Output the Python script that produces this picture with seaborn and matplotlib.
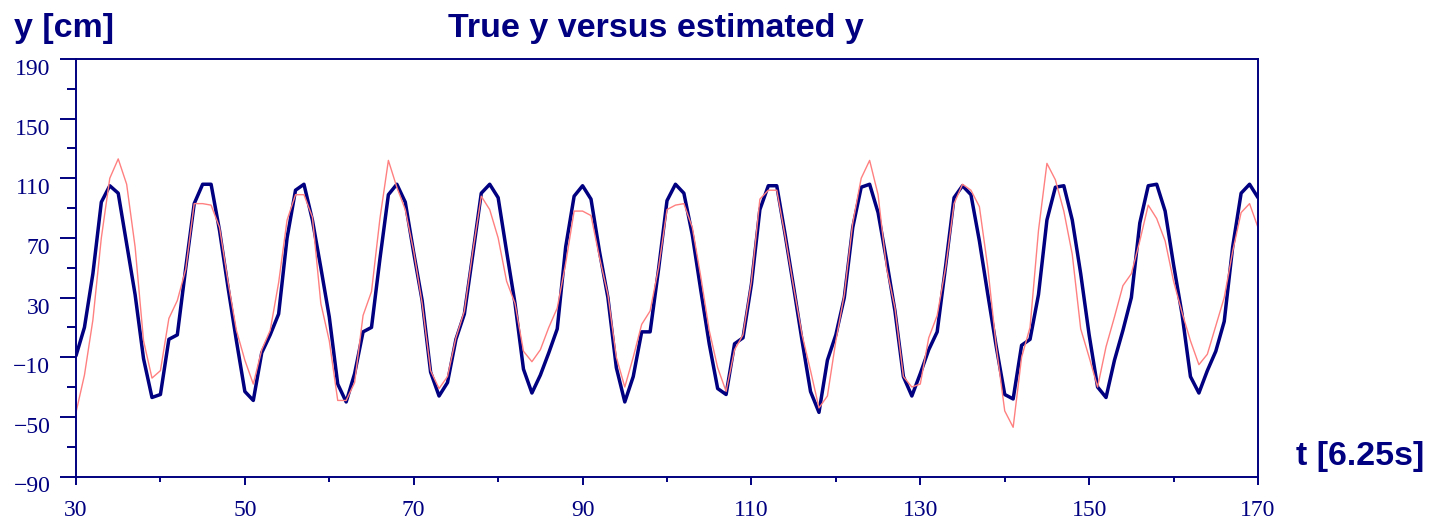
import matplotlib
matplotlib.use("Agg")
import matplotlib.pyplot as plt
import matplotlib.transforms as mtransforms
import seaborn as sns
import pandas as pd

t_values = list(range(30, 171))

true_y = [
    -9, 10, 46, 94, 105, 100, 66, 32, -11, -37,
    -35, 2, 5, 50, 93, 106, 106, 75, 37, 1,
    -33, -39, -7, 5, 19, 70, 102, 106, 82, 50,
    17, -28, -40, -21, 7, 10, 56, 99, 106, 94,
    60, 28, -20, -36, -27, 2, 19, 59, 100, 106,
    97, 61, 26, -18, -34, -22, -7, 9, 64, 98,
    105, 96, 61, 30, -17, -40, -23, 7, 7, 49,
    95, 106, 100, 72, 35, -1, -31, -35, -1, 3,
    39, 89, 105, 105, 72, 37, 1, -33, -47, -12,
    5, 30, 77, 104, 106, 87, 55, 21, -23, -36,
    -21, -5, 7, 51, 97, 105, 99, 68, 32, -3,
    -35, -38, -2, 2, 32, 82, 104, 105, 82, 46,
    5, -30, -37, -12, 8, 30, 80, 105, 106, 88,
    52, 19, -23, -34, -19, -6, 14, 64, 100, 106,
    97,
]

estimated_y = [
    -47, -22, 15, 70, 110, 123, 106, 64, 1, -24,
    -19, 16, 28, 49, 93, 93, 92, 77, 41, 8,
    -12, -28, -5, 8, 40, 82, 99, 99, 84, 26,
    1, -39, -39, -27, 18, 34, 83, 122, 104, 89,
    61, 26, -19, -31, -23, 3, 21, 61, 98, 89,
    70, 41, 26, -6, -13, -5, 10, 23, 53, 88,
    88, 85, 57, 32, -10, -30, -10, 12, 21, 50,
    89, 92, 93, 77, 44, 8, -17, -33, -5, 5,
    41, 96, 102, 102, 71, 37, 5, -19, -44, -36,
    1, 32, 80, 110, 122, 99, 50, 23, -23, -30,
    -28, 3, 18, 50, 93, 106, 102, 91, 50, -3,
    -46, -57, -10, 10, 75, 120, 109, 88, 59, 9,
    -10, -30, -3, 17, 38, 46, 68, 92, 83, 68,
    41, 20, 1, -15, -8, 11, 30, 61, 87, 93,
    77,
]

x_major_ticks = list(range(30, 171, 20))
x_minor_ticks = list(range(40, 171, 20))
y_major_ticks = list(range(-90, 191, 40))
y_minor_ticks = list(range(-70, 191, 40))

title_text = "True y versus estimated y"
y_label_text = "y [cm]"
x_label_text = "t [6.25s]"

NAVY = "#000080"
SALMON = "#ff8080"

sns.set_style("ticks")
plt.rcParams["axes.unicode_minus"] = True

df = pd.DataFrame({"t": t_values, "true": true_y, "est": estimated_y})

W, H = 1431, 523
fig = plt.figure(figsize=(W / 100, H / 100), dpi=100)
ax = fig.add_axes([76 / W, 1 - 476.5 / H, (1258 - 76) / W, (476.5 - 59) / H])

sns.lineplot(data=df, x="t", y="true", ax=ax, color=NAVY, linewidth=2.5)
sns.lineplot(data=df, x="t", y="est", ax=ax, color=SALMON, linewidth=1.0)

ax.set_xlim(30, 170)
ax.set_ylim(-90, 190)
ax.set_xticks(x_major_ticks)
ax.set_xticks(x_minor_ticks, minor=True)
ax.set_yticks(y_major_ticks)
ax.set_yticks(y_minor_ticks, minor=True)
ax.set_xlabel("")
ax.set_ylabel("")

for s in ax.spines.values():
    s.set_visible(True)
    s.set_color(NAVY)
    s.set_linewidth(1.4)

ax.tick_params(axis="y", which="major", length=11.5, width=1.4, color=NAVY,
               direction="out", pad=7, labelcolor=NAVY, labelsize=17)
ax.tick_params(axis="y", which="minor", length=6.3, width=1.4, color=NAVY,
               direction="out")
ax.tick_params(axis="x", which="major", length=5.8, width=1.4, color=NAVY,
               direction="out", pad=11, labelcolor=NAVY, labelsize=17)
ax.tick_params(axis="x", which="minor", length=3.3, width=1.4, color=NAVY,
               direction="out")

for lab in ax.get_xticklabels() + ax.get_yticklabels():
    lab.set_fontfamily("Liberation Serif")

offset = mtransforms.ScaledTranslation(0, -8 / 100, fig.dpi_scale_trans)
for lab in ax.get_yticklabels():
    lab.set_transform(lab.get_transform() + offset)

bold = dict(family="Liberation Sans", weight="bold", size=24.5, color=NAVY)
fig.text(656 / W, 1 - 28 / H, title_text, ha="center", va="center", **bold)
fig.text(14 / W, 1 - 28 / H, y_label_text, ha="left", va="center", **bold)
fig.text(1296 / W, 1 - 457 / H, x_label_text, ha="left", va="center", **bold)

fig.savefig("out.png", dpi=100, facecolor="white")
